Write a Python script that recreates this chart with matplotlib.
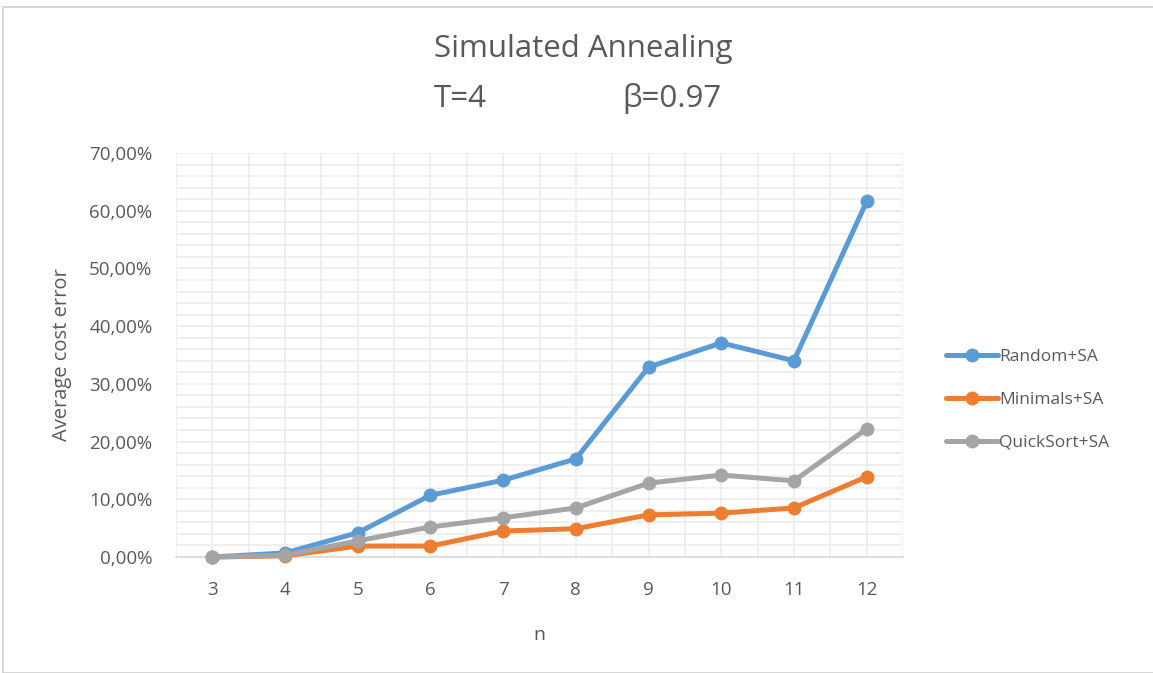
import matplotlib
matplotlib.use("Agg")
import matplotlib.pyplot as plt
from matplotlib.ticker import MultipleLocator, FuncFormatter
from matplotlib.patches import Rectangle

n_values = [3, 4, 5, 6, 7, 8, 9, 10, 11, 12]
random_sa = [0.0, 0.7, 4.2, 10.7, 13.3, 17.0, 32.9, 37.1, 34.0, 61.6]
minimals_sa = [0.0, 0.2, 1.9, 1.9, 4.5, 4.9, 7.3, 7.6, 8.5, 13.9]
quicksort_sa = [0.0, 0.3, 2.8, 5.2, 6.8, 8.5, 12.8, 14.2, 13.2, 22.2]
series_names = ["Random+SA", "Minimals+SA", "QuickSort+SA"]

plt.rcParams['font.family'] = ['Open Sans', 'DejaVu Sans']
txt = '#595959'

fig = plt.figure(figsize=(11.53, 6.73), dpi=100)
fig.patches.append(Rectangle((3/1153, 0), 1.2, 1 - 7/673, transform=fig.transFigure,
                             fill=False, edgecolor='#d0d0d0', linewidth=1.2))

ax = fig.add_axes([176/1153, 1 - 557/673, 727/1153, 404/673])
colors = ['#5B9BD5', '#ED7D31', '#A5A5A5']
for vals, name, c in zip([random_sa, minimals_sa, quicksort_sa], series_names, colors):
    ax.plot(n_values, vals, color=c, lw=3.6, marker='o', ms=9, label=name,
            solid_capstyle='round', solid_joinstyle='round', zorder=3, clip_on=False)

ax.set_xlim(2.5, 12.5)
ax.set_ylim(0, 70)
ax.set_xticks(n_values)
ax.set_xticks([x + 0.5 for x in [2] + n_values], minor=True)
ax.yaxis.set_major_locator(MultipleLocator(10))
ax.yaxis.set_minor_locator(MultipleLocator(2))
ax.yaxis.set_major_formatter(FuncFormatter(lambda v, p: f"{v:.2f}%".replace('.', ',')))
ax.grid(True, which='both', color='#ececec', lw=1.2, zorder=0)
ax.set_axisbelow(True)
for s in ['top', 'right', 'left']:
    ax.spines[s].set_visible(False)
ax.spines['bottom'].set_color('#d9d9d9')
ax.spines['bottom'].set_linewidth(1.2)
ax.tick_params(which='both', length=0, colors=txt, labelsize=13.5)
ax.tick_params(axis='x', pad=17)
ax.tick_params(axis='y', pad=17)
ax.set_xlabel('n', color=txt, fontsize=14, labelpad=20)
ax.set_ylabel('Average cost error', color=txt, fontsize=14.5, labelpad=12)

fig.text(583/1153, 1 - 49/673, 'Simulated Annealing', ha='center', va='center',
         fontsize=22.5, color=txt)
fig.text(460/1153, 1 - 99/673, 'T=4', ha='center', va='center', fontsize=22.5, color=txt)
fig.text(672/1153, 1 - 99/673, 'β=0.97', ha='center', va='center', fontsize=22.5, color=txt)

leg = fig.legend(loc='upper left', bbox_to_anchor=(930/1153, 1 - 333/673), frameon=False,
                 fontsize=12.5, handlelength=3.0, handletextpad=0.1, labelspacing=1.55,
                 labelcolor=txt)

fig.savefig('out.png', dpi=100)
